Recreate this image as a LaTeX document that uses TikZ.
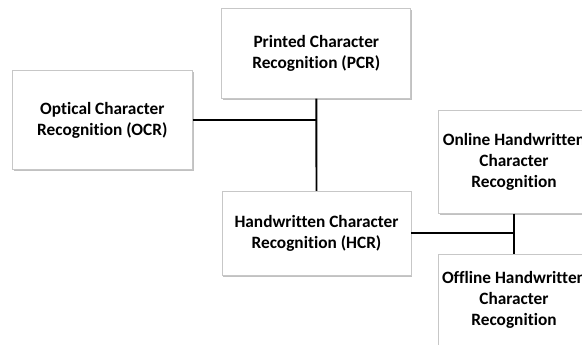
\documentclass[tikz,border=0pt]{standalone}
\usepackage{fontspec}
\setmainfont{Carlito}[Ligatures=NoCommon]
\usepackage{tikz}
\usetikzlibrary{
  calc,
  positioning,
  shadows
}
\tikzset{>=latex}
\tikzset{
  catbox/.style={draw=black!22, fill=white, line width=0.8pt, align=center,
    font=\fontsize{17.3}{20.7}\selectfont\bfseries,
    drop shadow={shadow xshift=1.3pt, shadow yshift=-1.5pt, fill=black!35, opacity=0.7},
    inner sep=2pt},
  link/.style={line width=1.9pt}
}

\begin{document}
\begin{tikzpicture}[x=1pt,y=1pt]
			\useasboundingbox (0,0) rectangle (582,345);
			\clip (0,0) rectangle (582,345);

			\node[catbox, minimum width=189pt, minimum height=90pt] (pcr) at (316.3,291.7) {Printed Character\\Recognition (PCR)};
			\node[catbox, minimum width=180pt, minimum height=99pt] (ocr) at (102.3,224.7) {Optical Character\\Recognition (OCR)};
			\node[catbox, minimum width=189pt, minimum height=84pt] (hcr) at (316.5,111.7) {Handwritten Character\\Recognition (HCR)};
			\node[catbox, minimum width=151pt, minimum height=103pt] (online) at (514,183.2) {Online Handwritten\\Character\\Recognition};
			\node[catbox, minimum width=151pt, minimum height=91pt] (offline) at (514,45.2) {Offline Handwritten\\Character\\Recognition};

			\draw[link] (pcr.south) -- (hcr.north);
			\draw[link] (ocr.east) -- (ocr.east -| pcr.south);
			\draw[link] (hcr.east) -- (hcr.east -| online.south);
			\draw[link] (online.south) -- (offline.north);
		\end{tikzpicture}
\end{document}
